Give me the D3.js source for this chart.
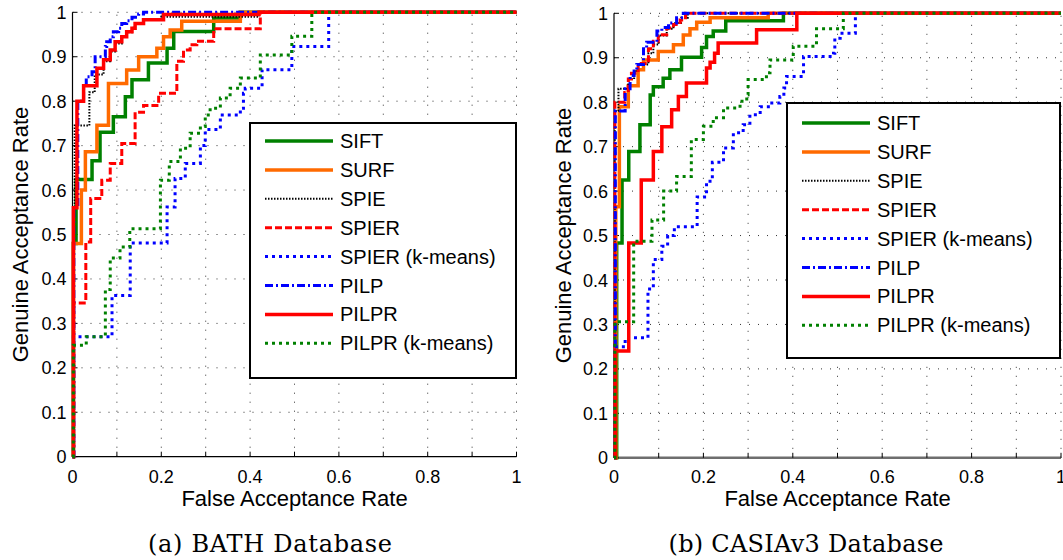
<!DOCTYPE html>
<html>
<head>
<meta charset="utf-8">
<script src="https://cdn.jsdelivr.net/npm/d3@7/dist/d3.min.js"></script>
<style>
  body { margin: 0; background: #fff; }
  svg text { font-family: "Liberation Sans", Arial, sans-serif; fill: #000; }
</style>
</head>
<body>
<svg id="chart" width="1063" height="560"></svg>
<script>
// ---- data ----
const seriesNames = ["SIFT", "SURF", "SPIE", "SPIER", "SPIER (k-means)", "PILP", "PILPR", "PILPR (k-means)"];
const tickValues = [0, 0.1, 0.2, 0.3, 0.4, 0.5, 0.6, 0.7, 0.8, 0.9, 1];
const yTickLabels = ["0", "0.1", "0.2", "0.3", "0.4", "0.5", "0.6", "0.7", "0.8", "0.9", "1"];
const xTickValues = [0, 0.2, 0.4, 0.6, 0.8, 1];
const xTickLabels = ["0", "0.2", "0.4", "0.6", "0.8", "1"];
const captions = ["(a) BATH Database", "(b) CASIAv3 Database"];

// BATH: [FAR, GAR] step points
const bathSIFT = [[0,0],[0.002,0.48],[0.008,0.624],[0.044,0.666],[0.062,0.73],[0.092,0.765],[0.119,0.81],[0.134,0.848],[0.171,0.886],[0.213,0.919],[0.228,0.957],[0.318,0.987],[0.378,1],[1,1]];
const bathSURF = [[0,0],[0.002,0.48],[0.02,0.6],[0.029,0.686],[0.055,0.746],[0.081,0.84],[0.122,0.87],[0.149,0.9],[0.19,0.919],[0.205,0.945],[0.22,0.96],[0.246,0.98],[0.378,1],[1,1]];
const bathSPIE = [[0,0],[0.003,0.56],[0.005,0.745],[0.038,0.82],[0.05,0.86],[0.07,0.89],[0.085,0.912],[0.096,0.93],[0.111,0.945],[0.122,0.955],[0.134,0.965],[0.141,0.975],[0.16,0.983],[0.2,0.99],[0.42,1],[1,1]];
const bathSPIER = [[0,0],[0.003,0.346],[0.03,0.483],[0.041,0.581],[0.066,0.622],[0.085,0.66],[0.111,0.705],[0.141,0.775],[0.16,0.79],[0.194,0.818],[0.235,0.89],[0.25,0.915],[0.265,0.927],[0.28,0.935],[0.318,0.963],[0.423,1],[1,1]];
const bathSPIERk = [[0,0],[0.002,0.27],[0.089,0.363],[0.13,0.481],[0.213,0.562],[0.231,0.626],[0.254,0.66],[0.288,0.7],[0.299,0.736],[0.333,0.769],[0.378,0.784],[0.385,0.818],[0.389,0.829],[0.427,0.871],[0.494,0.923],[0.577,1],[1,1]];
const bathPILP = [[0,0],[0.003,0.56],[0.012,0.8],[0.025,0.829],[0.031,0.855],[0.044,0.866],[0.051,0.9],[0.074,0.923],[0.077,0.934],[0.085,0.945],[0.092,0.956],[0.104,0.964],[0.111,0.975],[0.122,0.981],[0.134,0.989],[0.149,0.996],[0.16,1],[1,1]];
const bathPILPR = [[0,0],[0.002,0.56],[0.01,0.8],[0.025,0.835],[0.055,0.874],[0.07,0.893],[0.085,0.915],[0.096,0.934],[0.111,0.945],[0.122,0.956],[0.134,0.964],[0.141,0.975],[0.16,0.983],[0.205,0.995],[0.42,1],[1,1]];
const bathPILPRk = [[0,0],[0.002,0.251],[0.031,0.27],[0.074,0.376],[0.085,0.447],[0.107,0.472],[0.129,0.513],[0.198,0.622],[0.218,0.664],[0.243,0.694],[0.265,0.728],[0.288,0.743],[0.299,0.769],[0.31,0.784],[0.333,0.807],[0.355,0.829],[0.378,0.852],[0.423,0.904],[0.494,0.946],[0.539,1],[1,1]];

// CASIAv3
const casiaSIFT = [[0,0],[0.006,0.483],[0.018,0.625],[0.033,0.689],[0.058,0.749],[0.081,0.816],[0.088,0.835],[0.11,0.854],[0.125,0.873],[0.151,0.901],[0.196,0.923],[0.207,0.948],[0.222,0.96],[0.25,0.983],[0.379,1],[1,1]];
const casiaSURF = [[0,0],[0.004,0.565],[0.012,0.79],[0.032,0.837],[0.054,0.873],[0.066,0.895],[0.099,0.914],[0.133,0.929],[0.155,0.951],[0.17,0.965],[0.185,0.98],[0.215,0.99],[0.345,1],[1,1]];
const casiaSPIE = [[0,0],[0.002,0.78],[0.01,0.83],[0.032,0.852],[0.045,0.87],[0.054,0.885],[0.077,0.91],[0.088,0.93],[0.1,0.95],[0.118,0.965],[0.133,0.978],[0.15,0.99],[0.165,1],[1,1]];
const casiaSPIER = [[0,0],[0.002,0.8],[0.024,0.822],[0.032,0.852],[0.039,0.865],[0.054,0.887],[0.077,0.92],[0.088,0.937],[0.099,0.952],[0.118,0.967],[0.133,0.975],[0.148,0.985],[0.16,1],[1,1]];
const casiaSPIERk = [[0,0],[0.002,0.25],[0.025,0.27],[0.076,0.38],[0.088,0.446],[0.107,0.476],[0.12,0.5],[0.135,0.52],[0.186,0.587],[0.207,0.622],[0.22,0.665],[0.245,0.697],[0.267,0.731],[0.289,0.749],[0.304,0.772],[0.327,0.79],[0.349,0.798],[0.371,0.813],[0.38,0.832],[0.386,0.858],[0.424,0.903],[0.491,0.91],[0.494,0.944],[0.506,0.955],[0.54,1],[1,1]];
const casiaPILP = [[0,0],[0.003,0.78],[0.025,0.83],[0.036,0.86],[0.045,0.87],[0.051,0.885],[0.066,0.92],[0.073,0.935],[0.096,0.96],[0.107,0.968],[0.122,0.978],[0.14,0.99],[0.155,1],[1,1]];
const casiaPILPR = [[0,0],[0.003,0.24],[0.033,0.483],[0.061,0.625],[0.088,0.689],[0.107,0.745],[0.129,0.783],[0.144,0.813],[0.162,0.843],[0.207,0.877],[0.215,0.89],[0.225,0.91],[0.233,0.933],[0.319,0.963],[0.409,1],[1,1]];
const casiaPILPRk = [[0,0],[0.002,0.306],[0.044,0.487],[0.085,0.535],[0.111,0.6],[0.14,0.633],[0.173,0.716],[0.2,0.746],[0.222,0.765],[0.245,0.787],[0.282,0.802],[0.297,0.817],[0.3,0.851],[0.341,0.866],[0.349,0.895],[0.401,0.926],[0.453,0.965],[0.513,1],[1,1]];

const bathSeries = [bathSIFT, bathSURF, bathSPIE, bathSPIER, bathSPIERk, bathPILP, bathPILPR, bathPILPRk];
const casiaSeries = [casiaSIFT, casiaSURF, casiaSPIE, casiaSPIER, casiaSPIERk, casiaPILP, casiaPILPR, casiaPILPRk];

// line styles, same order as seriesNames
const styles = [
  { color: "#008000", width: 3.5, dash: null },
  { color: "#ff6a00", width: 3.5, dash: null },
  { color: "#000000", width: 2,   dash: "1.5,1.5" },
  { color: "#ff0000", width: 3,   dash: "7,3" },
  { color: "#0000ff", width: 3,   dash: "3,4" },
  { color: "#0000ff", width: 3,   dash: "8,3,2,3" },
  { color: "#ff0000", width: 3.5, dash: null },
  { color: "#008000", width: 3,   dash: "3,4" }
];

const svg = d3.select("#chart");

const panels = [
  { series: bathSeries, left: 72.5, right: 516.5, top: 12.3, bottom: 456.7,
    legend: { x: 250, y: 123, w: 266, h: 255, row0: 141 }, caption: captions[0], capX: 270, capW: 244, ylabX: 28, axisColor: "#000", axisW: 1.2 },
  { series: casiaSeries, left: 614, right: 1061, top: 13.3, bottom: 457.8,
    legend: { x: 787, y: 103, w: 273, h: 255, row0: 123 }, caption: captions[1], capX: 806, capW: 275, ylabX: 571, axisColor: "#6e6e6e", axisW: 2.5 }
];

panels.forEach(p => {
  const x = d3.scaleLinear().domain([0, 1]).range([p.left, p.right]);
  const y = d3.scaleLinear().domain([0, 1]).range([p.bottom, p.top]);
  const g = svg.append("g");

  // dotted grid
  g.append("g").selectAll("line").data(tickValues.slice(1)).enter().append("line")
    .attr("x1", d => x(d)).attr("x2", d => x(d)).attr("y1", y(0)).attr("y2", y(1))
    .attr("stroke", "#333").attr("stroke-width", 1).attr("stroke-dasharray", "1,8");
  g.append("g").selectAll("line").data(tickValues.slice(1)).enter().append("line")
    .attr("y1", d => y(d)).attr("y2", d => y(d)).attr("x1", x(0)).attr("x2", x(1))
    .attr("stroke", "#333").attr("stroke-width", 1).attr("stroke-dasharray", "1,8");

  // axes
  g.append("line").attr("x1", x(0)).attr("x2", x(1)).attr("y1", y(0)).attr("y2", y(0))
    .attr("stroke", p.axisColor).attr("stroke-width", p.axisW);
  g.append("line").attr("x1", x(0)).attr("x2", x(0)).attr("y1", y(0)).attr("y2", y(1))
    .attr("stroke", "#000").attr("stroke-width", 1.2);
  g.append("g").selectAll("line").data(tickValues).enter().append("line")
    .attr("x1", d => x(d)).attr("x2", d => x(d)).attr("y1", y(0)).attr("y2", y(0) - 5)
    .attr("stroke", "#000").attr("stroke-width", 1);
  g.append("g").selectAll("line").data(tickValues).enter().append("line")
    .attr("y1", d => y(d)).attr("y2", d => y(d)).attr("x1", x(0)).attr("x2", x(0) + 5)
    .attr("stroke", "#000").attr("stroke-width", 1);

  // tick labels
  g.append("g").selectAll("text").data(xTickValues).enter().append("text")
    .attr("x", d => x(d)).attr("y", 483).attr("text-anchor", "middle")
    .style("font-size", "18px").text((d, i) => xTickLabels[i]);
  g.append("g").selectAll("text").data(tickValues).enter().append("text")
    .attr("x", x(0) - 6).attr("y", d => y(d) + 6.5).attr("text-anchor", "end")
    .style("font-size", "18px").text((d, i) => yTickLabels[i]);

  // axis labels
  g.append("text").attr("x", (p.left + p.right) / 2).attr("y", 506).attr("text-anchor", "middle")
    .style("font-size", "22px").text("False Acceptance Rate");
  g.append("text").attr("transform", `translate(${p.ylabX},${(p.top + p.bottom) / 2}) rotate(-90)`)
    .attr("text-anchor", "middle").style("font-size", "22px").text("Genuine Acceptance Rate");

  // curves
  const line = d3.line().x(d => x(d[0])).y(d => y(d[1])).curve(d3.curveStepAfter);
  p.series.forEach((s, i) => {
    g.append("path").datum(s).attr("d", line)
      .attr("fill", "none").attr("stroke", styles[i].color)
      .attr("stroke-width", styles[i].width)
      .attr("stroke-dasharray", styles[i].dash)
      .attr("stroke-linejoin", "miter");
  });

  // legend
  const L = p.legend;
  const lg = g.append("g");
  lg.append("rect").attr("x", L.x).attr("y", L.y).attr("width", L.w).attr("height", L.h)
    .attr("fill", "#fff").attr("stroke", "#000").attr("stroke-width", 2);
  seriesNames.forEach((name, i) => {
    const ry = L.row0 + i * 28.9;
    lg.append("line").attr("x1", L.x + 15).attr("x2", L.x + 83).attr("y1", ry).attr("y2", ry)
      .attr("stroke", styles[i].color).attr("stroke-width", styles[i].width)
      .attr("stroke-dasharray", styles[i].dash);
    lg.append("text").attr("x", L.x + 90).attr("y", ry + 7)
      .style("font-size", "20px").text(name);
  });

  // sub caption
  svg.append("text").attr("x", p.capX).attr("y", 552).attr("text-anchor", "middle")
    .attr("textLength", p.capW).attr("lengthAdjust", "spacing")
    .style("font-family", "'DejaVu Serif', 'Liberation Serif', serif")
    .style("font-size", "24px").text(p.caption);
});
</script>
</body>
</html>
